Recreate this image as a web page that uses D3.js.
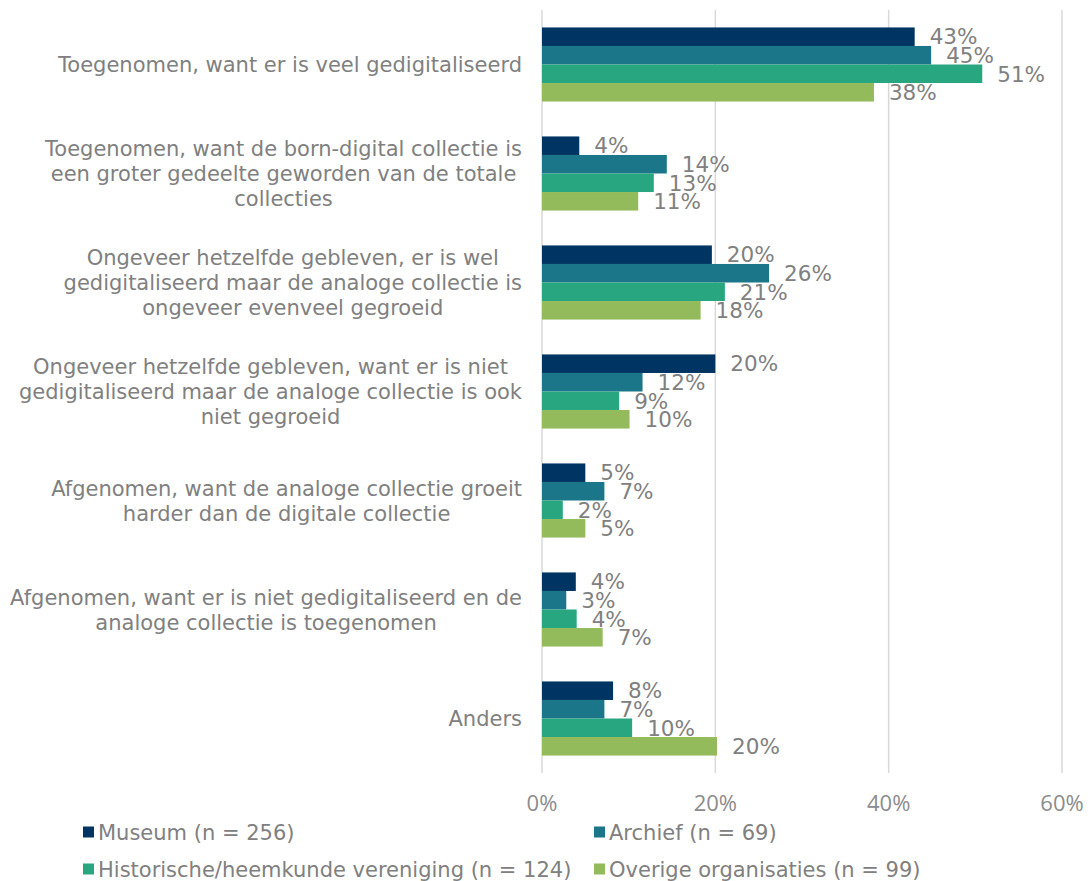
<!DOCTYPE html>
<html>
<head>
<meta charset="utf-8">
<script src="https://cdn.jsdelivr.net/npm/d3@7"></script>
<style>
  body { margin: 0; background: #fff; }
  svg { display: block; }
</style>
</head>
<body>
<svg id="chart" width="1091" height="881"></svg>
<script>
// categories, one array of lines per label
const categories = [
  ["Toegenomen, want er is veel gedigitaliseerd"],
  ["Toegenomen, want de born-digital collectie is", "een groter gedeelte geworden van de totale", "collecties"],
  ["Ongeveer hetzelfde gebleven, er is wel", "gedigitaliseerd maar de analoge collectie is", "ongeveer evenveel gegroeid"],
  ["Ongeveer hetzelfde gebleven, want er is niet", "gedigitaliseerd maar de analoge collectie is ook", "niet gegroeid"],
  ["Afgenomen, want de analoge collectie groeit", "harder dan de digitale collectie"],
  ["Afgenomen, want er is niet gedigitaliseerd en de", "analoge collectie is toegenomen"],
  ["Anders"]
];

const seriesNames = [
  "Museum (n = 256)",
  "Archief (n = 69)",
  "Historische/heemkunde vereniging (n = 124)",
  "Overige organisaties (n = 99)"
];
const seriesColors = ["#003462", "#1a7688", "#27a67f", "#93bb5b"];

// percentages per category
const museum     = [43.0, 4.3, 19.6, 20.0, 5.0, 3.9, 8.2];
const archief    = [44.9, 14.4, 26.2, 11.6, 7.2, 2.8, 7.2];
const historisch = [50.8, 12.9, 21.1, 8.9, 2.4, 4.0, 10.4];
const overige    = [38.3, 11.1, 18.3, 10.1, 5.0, 7.0, 20.2];
const values = [museum, archief, historisch, overige];

const xTicks = [0, 20, 40, 60];

const svg = d3.select("#chart");
const labelFont = "'DejaVu Sans', Verdana, sans-serif";
const grey = "#808080";

const x = d3.scaleLinear().domain([0, 60]).range([542, 1062]);
const y = d3.scaleBand()
  .domain(d3.range(categories.length))
  .range([10, 773])
  .paddingInner(0.32)
  .paddingOuter(0.16);
const ySub = d3.scaleBand()
  .domain(d3.range(seriesNames.length))
  .range([0, y.bandwidth()]);

// gridlines
svg.append("g")
  .selectAll("line")
  .data(xTicks)
  .join("line")
  .attr("x1", d => x(d)).attr("x2", d => x(d))
  .attr("y1", 10).attr("y2", 773)
  .attr("stroke", "#d9d9d9")
  .attr("stroke-width", 1.5);

// axis tick labels
svg.append("g")
  .selectAll("text")
  .data(xTicks)
  .join("text")
  .attr("x", d => x(d))
  .attr("y", 811)
  .attr("text-anchor", "middle")
  .attr("font-family", "'Open Sans', sans-serif")
  .attr("font-size", 22)
  .attr("fill", "#8c8c8c")
  .text(d => d + "%");

// bars
const groups = svg.append("g")
  .selectAll("g")
  .data(categories.map((c, i) => i))
  .join("g")
  .attr("transform", i => `translate(0,${y(i)})`);

groups.selectAll("rect")
  .data(i => values.map((s, k) => ({ k, v: s[i] })))
  .join("rect")
  .attr("x", x(0))
  .attr("y", d => ySub(d.k))
  .attr("width", d => x(d.v) - x(0))
  .attr("height", ySub.bandwidth())
  .attr("fill", d => seriesColors[d.k]);

groups.selectAll("text")
  .data(i => values.map((s, k) => ({ k, v: s[i] })))
  .join("text")
  .attr("x", d => x(d.v) + 15)
  .attr("y", d => ySub(d.k) + ySub.bandwidth() / 2)
  .attr("dy", "0.36em")
  .attr("font-family", labelFont)
  .attr("font-size", 21.5)
  .attr("fill", grey)
  .text(d => Math.round(d.v) + "%");

// category labels: block right-aligned, lines centred
const catG = svg.append("g");
categories.forEach((lines, i) => {
  const cy = y(i) + y.bandwidth() / 2;
  const lh = 25;
  const t = catG.append("text")
    .attr("font-family", labelFont)
    .attr("font-size", 21)
    .attr("fill", grey)
    .attr("text-anchor", "middle");
  const spans = lines.map((l, j) => t.append("tspan")
    .attr("y", cy + (j - (lines.length - 1) / 2) * lh)
    .attr("dy", "0.36em")
    .text(l));
  const w = d3.max(spans, s => s.node().getComputedTextLength());
  spans.forEach(s => s.attr("x", 522 - w / 2));
});

// legend
const legendPos = [[83, 832], [594, 832], [83, 869], [594, 869]];
const leg = svg.append("g")
  .selectAll("g")
  .data(seriesNames)
  .join("g")
  .attr("transform", (d, i) => `translate(${legendPos[i][0]},${legendPos[i][1]})`);
leg.append("rect")
  .attr("x", 0).attr("y", -5.5)
  .attr("width", 11).attr("height", 11)
  .attr("fill", (d, i) => seriesColors[i]);
leg.append("text")
  .attr("x", 15)
  .attr("dy", "0.36em")
  .attr("font-family", labelFont)
  .attr("font-size", 21)
  .attr("fill", grey)
  .text(d => d);
</script>
</body>
</html>
